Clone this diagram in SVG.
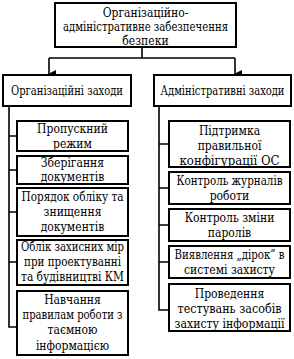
<svg xmlns="http://www.w3.org/2000/svg" width="294" height="359" viewBox="0 0 294 359" font-family="DejaVu Serif Condensed, DejaVu Serif, serif">
<defs>
<marker id="arr" markerWidth="8" markerHeight="8" refX="4" refY="7" orient="auto" markerUnits="userSpaceOnUse" viewBox="0 0 8 8">
<path d="M0,0 L8,0 L4,8 Z" fill="#000"/>
</marker>
</defs>
<style>
.b{fill:#fff;stroke:#000;stroke-width:2}
text{font-size:12px;fill:#000;text-anchor:middle}
.c{fill:none;stroke:#000;stroke-width:1.6}
</style>
<rect width="294" height="359" fill="#fff"/>
<g id="connectors">
<path class="c" d="M142,47 V58 M49,58 H235"/>
<path class="c" d="M49,58 V74" marker-end="url(#arr)"/>
<path class="c" d="M235,58 V74" marker-end="url(#arr)"/>
<path class="c" d="M9,106 V327 H17 M9,136 H17 M9,170 H17 M9,212 H17 M9,262 H17"/>
<path class="c" d="M159,106 V310 H169 M159,144 H169 M159,188 H169 M159,225 H169 M159,262 H169"/>
</g>
<g id="root"><rect class="b" x="55" y="3" width="181" height="44"/>
<text x="145.5" y="17">Організаційно-</text><text x="145.5" y="31" textLength="165" lengthAdjust="spacingAndGlyphs">адміністративне забезпечення</text><text x="145.5" y="45">безпеки</text></g>
<g id="org"><rect class="b" x="3" y="75" width="128" height="31"/><text x="67" y="95" textLength="112" lengthAdjust="spacingAndGlyphs">Організаційні заходи</text></g>
<g id="adm"><rect class="b" x="154" y="75" width="137" height="31"/><text x="222.5" y="95" textLength="124" lengthAdjust="spacingAndGlyphs">Адміністративні заходи</text></g>
<g id="l1"><rect class="b" x="17" y="121" width="111" height="30"/><text x="72.5" y="133">Пропускний</text><text x="72.5" y="148">режим</text></g>
<g id="l2"><rect class="b" x="17" y="156" width="111" height="28"/><text x="72.5" y="167">Зберігання</text><text x="72.5" y="181">документів</text></g>
<g id="l3"><rect class="b" x="17" y="188" width="111" height="48"/><text x="72.5" y="201" textLength="102" lengthAdjust="spacingAndGlyphs">Порядок обліку та</text><text x="72.5" y="216">знищення</text><text x="72.5" y="231">документів</text></g>
<g id="l4"><rect class="b" x="17" y="240" width="111" height="45"/><text x="72.5" y="251" textLength="103" lengthAdjust="spacingAndGlyphs">Облік захисних мір</text><text x="72.5" y="266" textLength="97" lengthAdjust="spacingAndGlyphs">при проектуванні</text><text x="72.5" y="281" textLength="103" lengthAdjust="spacingAndGlyphs">та будівництві КМ</text></g>
<g id="l5"><rect class="b" x="17" y="291" width="111" height="64"/><text x="72.5" y="304">Навчання</text><text x="72.5" y="319" textLength="100" lengthAdjust="spacingAndGlyphs">правилам роботи з</text><text x="72.5" y="334">таємною</text><text x="72.5" y="350">інформацією</text></g>
<g id="r1"><rect class="b" x="169" y="121" width="121" height="46"/><text x="229.5" y="135">Підтримка</text><text x="229.5" y="150">правильної</text><text x="229.5" y="165" textLength="100" lengthAdjust="spacingAndGlyphs">конфігурації ОС</text></g>
<g id="r2"><rect class="b" x="169" y="172" width="121" height="32"/><text x="229.5" y="185" textLength="106" lengthAdjust="spacingAndGlyphs">Контроль журналів</text><text x="229.5" y="200">роботи</text></g>
<g id="r3"><rect class="b" x="169" y="209" width="121" height="32"/><text x="229.5" y="222">Контроль зміни</text><text x="229.5" y="237">паролів</text></g>
<g id="r4"><rect class="b" x="169" y="246" width="121" height="32"/><text x="229.5" y="259" textLength="110" lengthAdjust="spacingAndGlyphs">Виявлення „дірок” в</text><text x="229.5" y="274">системі захисту</text></g>
<g id="r5"><rect class="b" x="169" y="284" width="121" height="47"/><text x="229.5" y="298">Проведення</text><text x="229.5" y="313" textLength="104" lengthAdjust="spacingAndGlyphs">тестувань засобів</text><text x="229.5" y="328" textLength="110" lengthAdjust="spacingAndGlyphs">захисту інформації</text></g>
</svg>
